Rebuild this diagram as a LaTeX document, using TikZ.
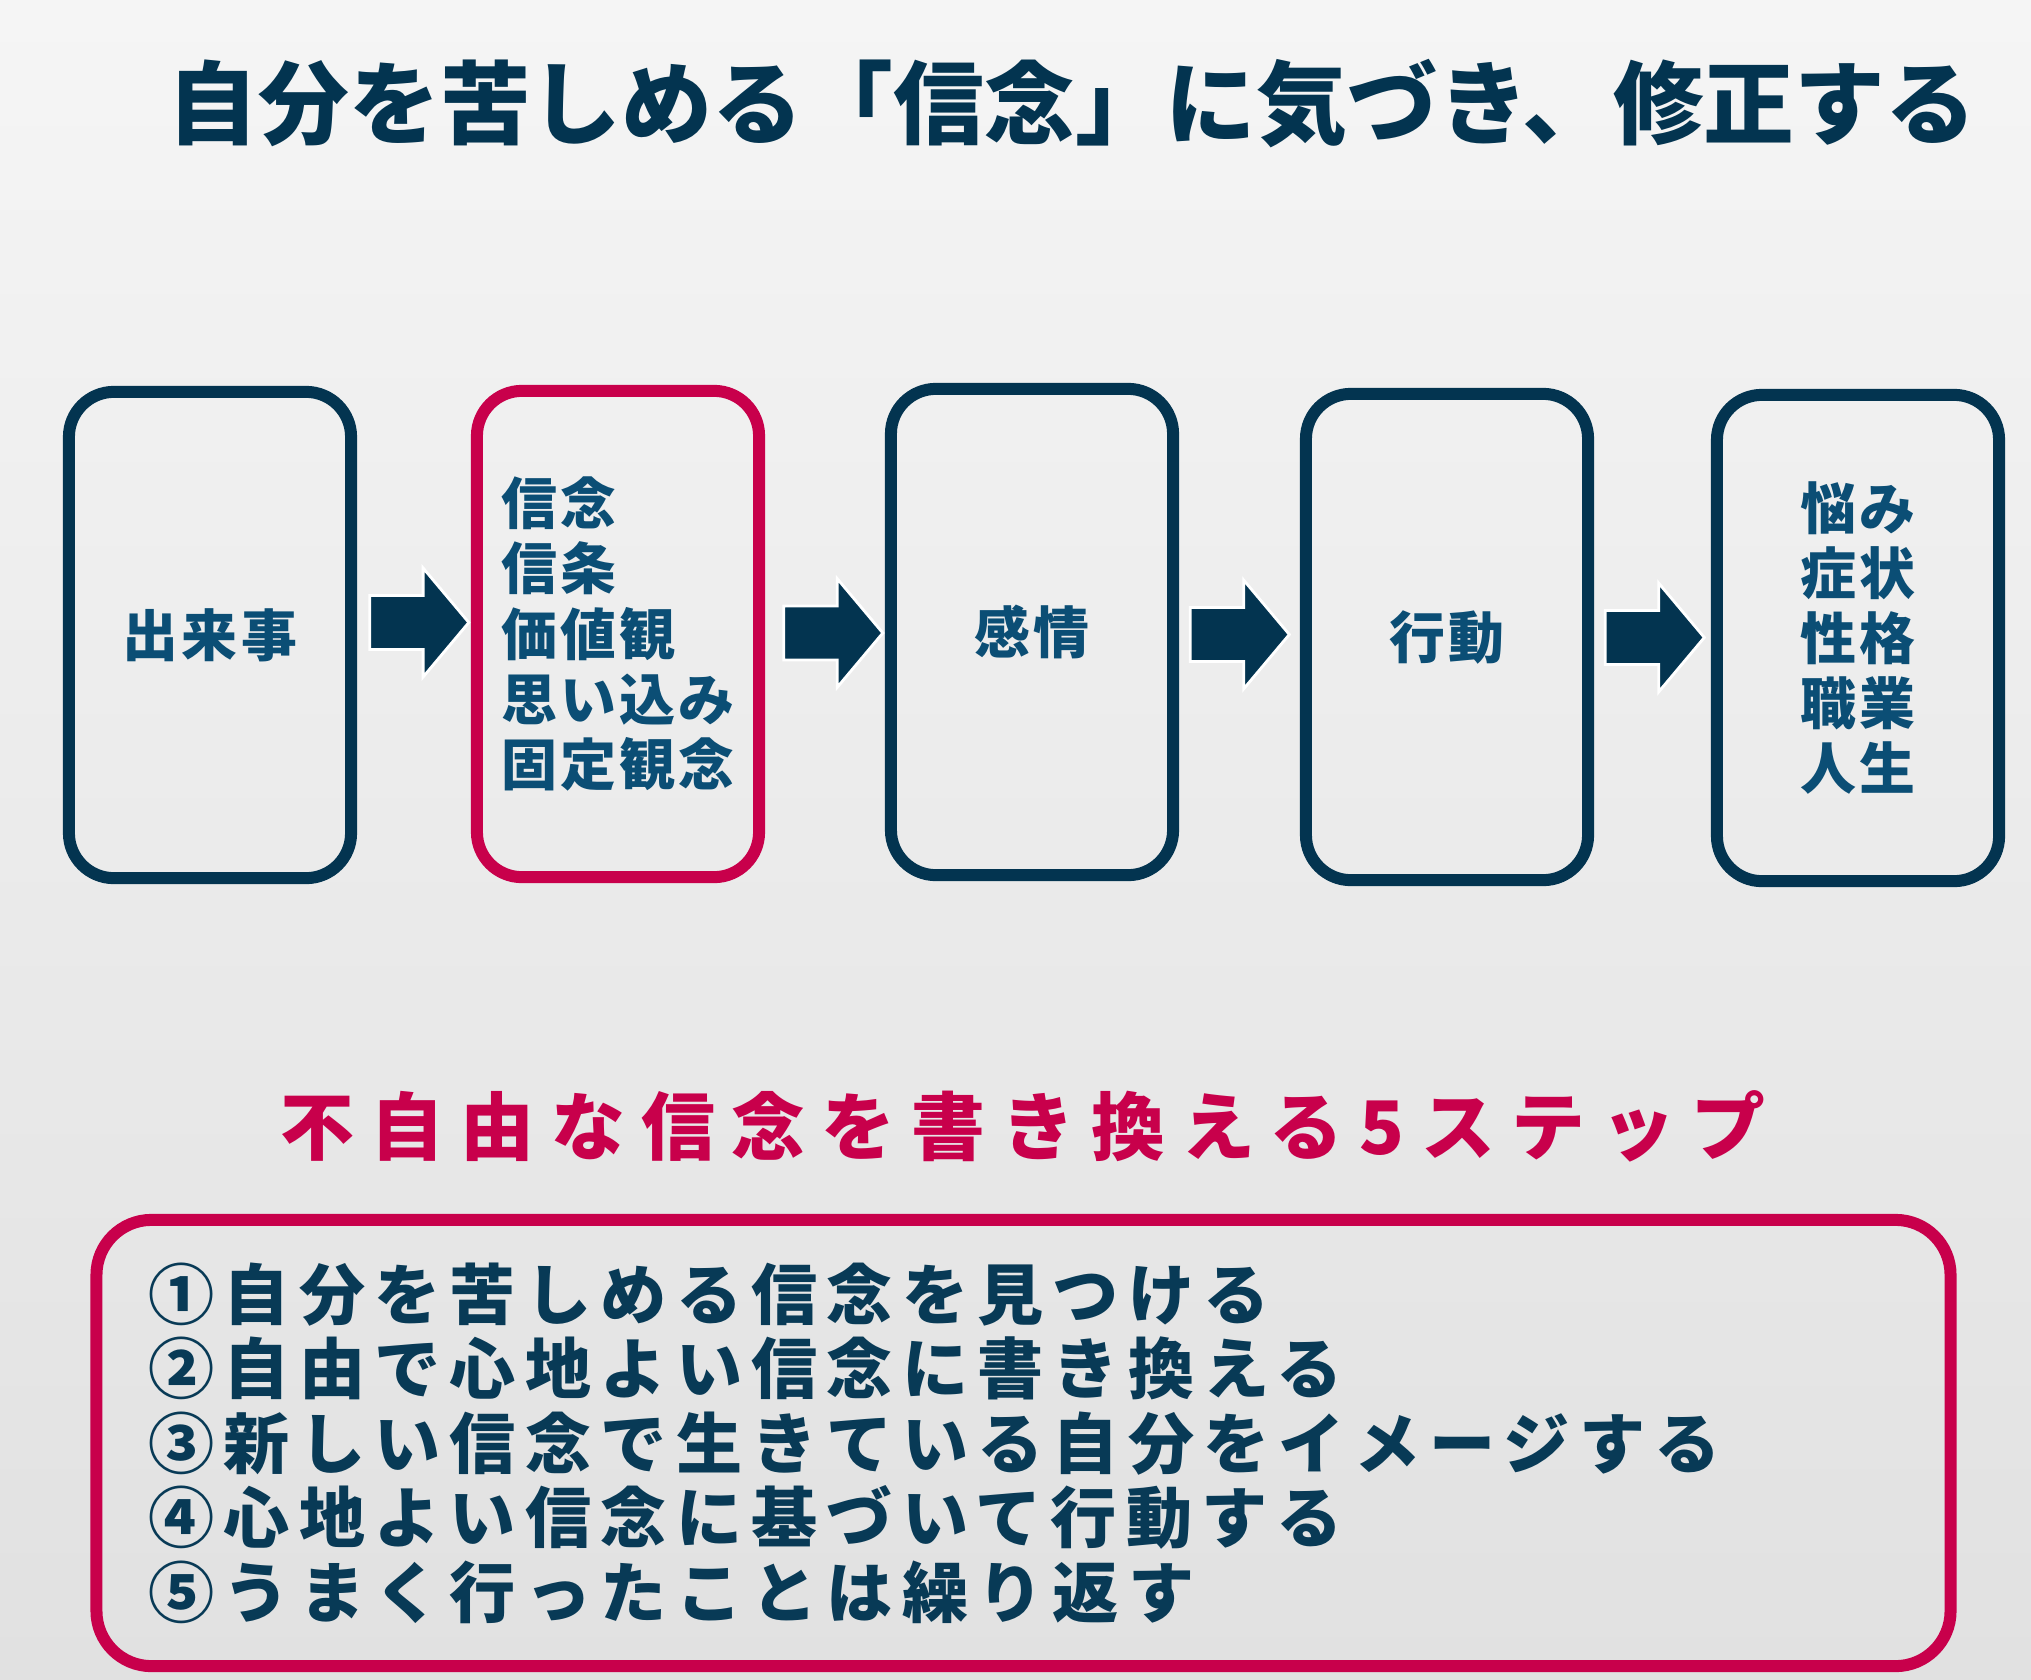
\documentclass[tikz,border=0pt]{standalone}
\usepackage{fontspec}
\setmainfont{Noto Sans CJK JP}
\newfontfamily\boxfont[LetterSpace=6]{Noto Sans CJK JP}
\newfontfamily\subfont[LetterSpace=22]{Noto Sans CJK JP}
\newfontfamily\stepfont[LetterSpace=14]{Noto Sans CJK JP}
\usetikzlibrary{shapes.arrows}
\usetikzlibrary{calc,positioning}

\definecolor{navy}{HTML}{033450}
\definecolor{inkblue}{HTML}{0B4E75}
\definecolor{crimson}{HTML}{C8004B}
\definecolor{stepnavy}{HTML}{083A56}
\definecolor{bgtop}{HTML}{F5F5F5}
\definecolor{bgbot}{HTML}{E1E1E1}

\begin{document}
\begin{tikzpicture}[x=0.01cm, y=-0.01cm,
                card/.style={rectangle, rounded corners=0.45cm, draw=navy, line width=0.12cm,
                    minimum width=2.82cm, minimum height=4.86cm, text=inkblue,
                    font=\boxfont\bfseries\fontsize{15.9pt}{18.5pt}\selectfont},
                keycard/.style={card, draw=crimson, align=left},
                flow/.style={single arrow, fill=navy, draw=white, line width=0.8pt, inner sep=0pt,
                    text height=0.51cm, text depth=0pt, minimum height=0.99cm,
                    single arrow head extend=0.275cm, single arrow tip angle=100},
                stepsbox/.style={rectangle, rounded corners=0.55cm, draw=crimson, line width=0.12cm,
                    minimum width=18.53cm, minimum height=4.46cm, text width=17.49cm, inner xsep=0.52cm,
                    align=left, text=stepnavy,
                    font=\stepfont\bfseries\fontsize{18.8pt}{21.2pt}\selectfont}
            ]
            \useasboundingbox (0,0) rectangle (2031,1679);
            \shade[top color=bgtop, bottom color=bgbot] (0,0) rectangle (2031,1679);

            \node[text=navy, font=\bfseries\fontsize{25.8pt}{28pt}\selectfont] (title) at (1072,104)
                {自分を苦しめる「信念」に気づき、修正する};

            % chain of cards
            \node[card] (event) at (210,635) {出来事};
            \node[keycard] (belief) at (618,634) {信念\\信条\\価値観\\思い込み\\固定観念};
            \node[card] (emotion) at (1032,632) {感情};
            \node[card] (action) at (1447,637) {行動};
            \node[card, align=center] (result) at (1858,638) {悩み\\症状\\性格\\職業\\人生};

            \node[flow] (f1) at ($(event.east)!.5!(belief.west)+(-6,-12)$) {};
            \node[flow] (f2) at ($(belief.east)!.5!(emotion.west)+(-3,0)$) {};
            \node[flow] (f3) at ($(emotion.east)!.5!(action.west)+(-11,0)$) {};
            \node[flow] (f4) at ($(action.east)!.5!(result.west)+(-9,0)$) {};

            % five steps
            \node[text=crimson, font=\subfont\bfseries\fontsize{21pt}{24pt}\selectfont] (subtitle) at (1023,1126)
                {不自由な信念を書き換える5ステップ};
            \node[stepsbox] (steps) at (1023.5,1443)
                {①自分を苦しめる信念を見つける\\
                 ②自由で心地よい信念に書き換える\\
                 ③新しい信念で生きている自分をイメージする\\
                 ④心地よい信念に基づいて行動する\\
                 ⑤うまく行ったことは繰り返す};
        \end{tikzpicture}
\end{document}
